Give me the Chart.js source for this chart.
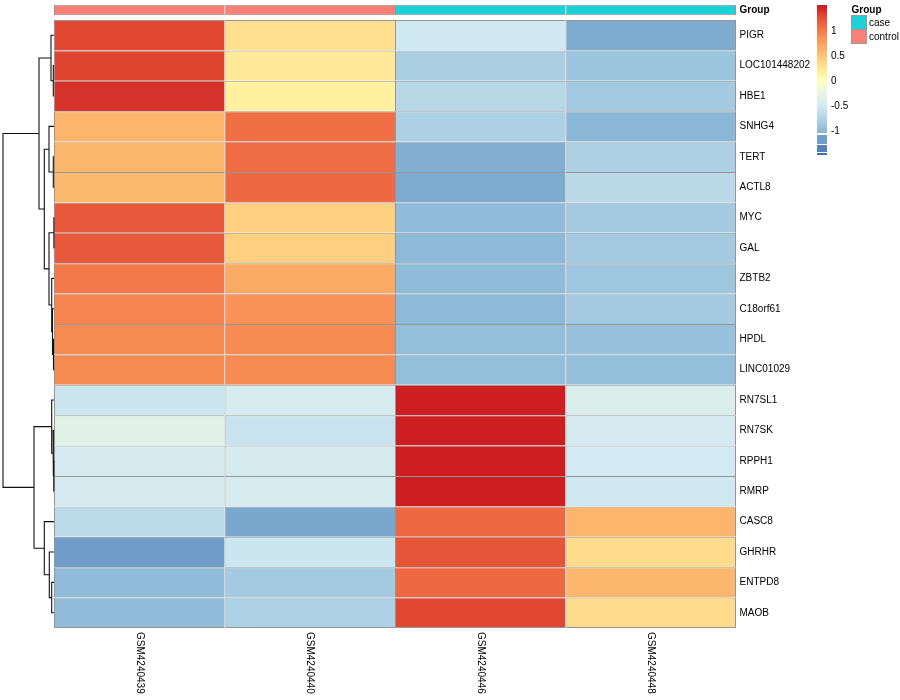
<!DOCTYPE html>
<html>
<head>
<meta charset="utf-8">
<script src="https://cdn.jsdelivr.net/npm/chart.js@4.4.1/dist/chart.umd.min.js"></script>
<style>
  html, body { margin: 0; padding: 0; background: #ffffff; }
  #wrap { position: relative; width: 900px; height: 700px; background: #ffffff; }
  #wrap canvas { position: absolute; left: 0; top: 0; }
</style>
</head>
<body>
<div id="wrap">
  <canvas id="heat" width="900" height="700"></canvas>
  <canvas id="dendro" width="60" height="700"></canvas>
</div>
<script>
// ---------------- DATA ----------------
const samples = ['GSM4240439', 'GSM4240440', 'GSM4240446', 'GSM4240448'];
const sampleGroups = ['control', 'control', 'case', 'case'];
const groupNames = ['case', 'control'];
const groupColors = ['#1DD1D8', '#FA7F77'];

const genes = ['PIGR', 'LOC101448202', 'HBE1', 'SNHG4', 'TERT', 'ACTL8', 'MYC', 'GAL',
  'ZBTB2', 'C18orf61', 'HPDL', 'LINC01029', 'RN7SL1', 'RN7SK', 'RPPH1', 'RMRP',
  'CASC8', 'GHRHR', 'ENTPD8', 'MAOB'];

// row-scaled values (z-scores), one array per sample column, in gene order
const zGSM4240439 = [1.30, 1.32, 1.40, 0.62, 0.60, 0.58, 1.22, 1.22, 1.02, 0.95, 0.90, 0.90,
  -0.55, -0.33, -0.47, -0.47, -0.67, -1.24, -0.98, -0.97];
const zGSM4240440 = [0.30, 0.22, 0.15, 1.08, 1.10, 1.12, 0.42, 0.42, 0.70, 0.85, 0.90, 0.90,
  -0.45, -0.58, -0.47, -0.46, -1.15, -0.55, -0.85, -0.77];
const zGSM4240446 = [-0.52, -0.80, -0.70, -0.78, -1.10, -1.12, -0.98, -1.00, -0.98, -1.00, -0.95, -0.95,
  1.49, 1.49, 1.49, 1.49, 1.12, 1.24, 1.12, 1.30];
const zGSM4240448 = [-1.12, -0.90, -0.85, -1.02, -0.78, -0.68, -0.85, -0.85, -0.88, -0.85, -0.93, -0.95,
  -0.40, -0.48, -0.50, -0.52, 0.62, 0.33, 0.60, 0.33];
const columns = [zGSM4240439, zGSM4240440, zGSM4240446, zGSM4240448];

// row dendrogram (hclust style: negative = leaf (1-based gene index), positive = earlier merge)
const mergeLeft   = [-2, -1, -5, -4, -7, -11, -10, -9, 5, 4, 2, -15, -14, -13, -19, -18, -17, 14, 11];
const mergeRight  = [-3,  1, -6,  3, -8, -12,   6,  7, 8, 9, 10, -16, 12, 13, -20, 15, 16, 17, 18];
const mergeHeight = [0.14, 0.6, 0.14, 1.0, 0.02, 0.1, 0.3, 0.46, 1.0, 1.94, 3.0, 0.05, 0.2, 0.46, 0.46, 0.94, 1.94, 4.0, 10.2];

// colour legend ticks
const legendTicks = [1, 0.5, 0, -0.5, -1];

// ---------------- COLOUR SCALE ----------------
const paletteStops = [
  [-1.5, '#4470B0'], [-1.25, '#6E9BC7'], [-1.0, '#8DBAD8'], [-0.75, '#B1D4E6'],
  [-0.5, '#D3EAF2'], [-0.25, '#E8F5E4'], [0, '#FFFFBF'], [0.12, '#FFF4A2'], [0.25, '#FEE795'],
  [0.5, '#FDC576'], [0.75, '#FBA35E'], [1.0, '#F57C4C'], [1.25, '#E65337'], [1.5, '#CC1C20']
];
function hexToRgb(h) { const n = parseInt(h.slice(1), 16); return [(n >> 16) & 255, (n >> 8) & 255, n & 255]; }
function colorFor(v) {
  if (v <= paletteStops[0][0]) return paletteStops[0][1];
  if (v >= paletteStops[paletteStops.length - 1][0]) return paletteStops[paletteStops.length - 1][1];
  for (let i = 0; i < paletteStops.length - 1; i++) {
    const [a, ca] = paletteStops[i], [b, cb] = paletteStops[i + 1];
    if (v >= a && v <= b) {
      const t = (v - a) / (b - a), A = hexToRgb(ca), B = hexToRgb(cb);
      const c = A.map((x, k) => Math.round(x + (B[k] - x) * t));
      return 'rgb(' + c.join(',') + ')';
    }
  }
  return '#ffffff';
}

const FONT = '"Liberation Sans", Arial, Helvetica, sans-serif';
const nRows = genes.length, nCols = samples.length;
const GROUP_BAND = [-0.5, -0.155];
const PAD = { left: 54, right: 164, top: 4.8, bottom: 72 };

// ---------------- HEATMAP ----------------
const borderFor = (rowIdx, isGroup) => (ctx) => ({
  top: 1, left: 1,
  right: ctx.dataIndex === nCols - 1 ? 1 : 0,
  bottom: (isGroup || rowIdx === nRows - 1) ? 1 : 0
});

const heatDatasets = genes.map((g, r) => ({
  label: g,
  data: samples.map(() => [r, r + 1]),
  backgroundColor: columns.map(col => colorFor(col[r])),
  borderColor: '#959595',
  borderWidth: borderFor(r, false),
  borderSkipped: false,
  inflateAmount: 0,
  grouped: false,
  barPercentage: 1,
  categoryPercentage: 1
}));
heatDatasets.push({
  label: 'Group',
  data: samples.map(() => GROUP_BAND.slice()),
  backgroundColor: sampleGroups.map(g => groupColors[groupNames.indexOf(g)]),
  borderColor: '#959595',
  borderWidth: borderFor(-1, true),
  borderSkipped: false,
  inflateAmount: 0,
  grouped: false,
  barPercentage: 1,
  categoryPercentage: 1
});

const textPlugin = {
  id: 'heatText',
  afterDatasetsDraw(chart) {
    const { ctx, chartArea, scales } = chart;
    const x = scales.x, y = scales.y;
    ctx.save();
    ctx.fillStyle = '#000000';
    ctx.textBaseline = 'middle';
    ctx.textAlign = 'left';
    // row labels
    ctx.font = '10px ' + FONT;
    genes.forEach((g, i) => ctx.fillText(g, chartArea.right + 3.5, y.getPixelForValue(i + 0.5)));
    ctx.font = 'bold 10px ' + FONT;
    ctx.fillText('Group', chartArea.right + 3.5, y.getPixelForValue((GROUP_BAND[0] + GROUP_BAND[1]) / 2));
    // column labels (rotated)
    ctx.font = '10px ' + FONT;
    samples.forEach((s, i) => {
      ctx.save();
      ctx.translate(x.getPixelForValue(i), chartArea.bottom + 4);
      ctx.rotate(Math.PI / 2);
      ctx.textAlign = 'left';
      ctx.textBaseline = 'middle';
      ctx.fillText(s, 0, 0);
      ctx.restore();
    });

    // colour bar legend
    const lx = 817, lw = 10, zeroY = 81, unit = 50;
    const vTop = 1.52, vCont = -1.04;
    const yTop = zeroY - vTop * unit, yCont = zeroY - vCont * unit;
    const grad = ctx.createLinearGradient(0, yTop, 0, yCont);
    const stopsIn = paletteStops.filter(s => s[0] < vTop && s[0] > vCont).map(s => s[0]);
    [vTop].concat(stopsIn, [vCont]).forEach(v => {
      grad.addColorStop(Math.min(1, Math.max(0, (zeroY - v * unit - yTop) / (yCont - yTop))), colorFor(v));
    });
    ctx.fillStyle = grad;
    ctx.fillRect(lx, yTop, lw, yCont - yTop);
    // lower discrete blocks
    const blocks = [[-1.08, -1.26], [-1.28, -1.42], [-1.44, -1.48]];
    blocks.forEach(([a, b]) => {
      ctx.fillStyle = colorFor((a + b) / 2 - 0.05);
      ctx.fillRect(lx, zeroY - a * unit, lw, (a - b) * unit);
    });
    ctx.fillStyle = '#000000';
    ctx.font = '10px ' + FONT;
    ctx.textAlign = 'left';
    legendTicks.forEach(t => ctx.fillText(String(t), lx + lw + 4, zeroY - t * unit));

    // group legend
    const gx = 851.5;
    ctx.font = 'bold 10px ' + FONT;
    ctx.fillText('Group', gx, 10);
    ctx.font = '10px ' + FONT;
    groupNames.forEach((g, i) => {
      const top = 15.5 + i * 14;
      ctx.fillStyle = groupColors[i];
      ctx.fillRect(gx, top, 15, 14);
      ctx.strokeStyle = '#999999';
      ctx.lineWidth = 1;
      ctx.strokeRect(gx, top, 15, 14);
      ctx.fillStyle = '#000000';
      ctx.fillText(g, gx + 17.5, top + 7.5);
    });
    ctx.restore();
  }
};

new Chart(document.getElementById('heat'), {
  type: 'bar',
  data: { labels: samples, datasets: heatDatasets },
  options: {
    responsive: false,
    animation: false,
    layout: { padding: PAD },
    plugins: { legend: { display: false }, tooltip: { enabled: false } },
    scales: {
      x: { type: 'category', display: false, offset: true, grid: { display: false } },
      y: { type: 'linear', display: false, reverse: true, min: GROUP_BAND[0], max: nRows, grid: { display: false } }
    }
  },
  plugins: [textPlugin]
});

// ---------------- DENDROGRAM ----------------
const nodeY = [], nodeH = [];
function pos(ref) {
  if (ref < 0) return { y: (-ref - 1) + 0.5, h: 0 };
  return { y: nodeY[ref - 1], h: nodeH[ref - 1] };
}
const dendroDatasets = [];
for (let i = 0; i < mergeHeight.length; i++) {
  const L = pos(mergeLeft[i]), R = pos(mergeRight[i]), h = mergeHeight[i];
  nodeY.push((L.y + R.y) / 2);
  nodeH.push(h);
  dendroDatasets.push({
    data: [{ x: L.h, y: L.y }, { x: h, y: L.y }, { x: h, y: R.y }, { x: R.h, y: R.y }],
    showLine: true,
    borderColor: '#111111',
    borderWidth: 1.1,
    pointRadius: 0,
    fill: false,
    tension: 0,
    clip: false
  });
}

new Chart(document.getElementById('dendro'), {
  type: 'scatter',
  data: { datasets: dendroDatasets },
  options: {
    responsive: false,
    animation: false,
    layout: { padding: { left: 3, right: 6, top: PAD.top, bottom: PAD.bottom } },
    plugins: { legend: { display: false }, tooltip: { enabled: false } },
    scales: {
      x: { type: 'linear', display: false, reverse: true, min: 0, max: Math.max(...mergeHeight) },
      y: { type: 'linear', display: false, reverse: true, min: GROUP_BAND[0], max: nRows }
    }
  }
});
</script>
</body>
</html>
